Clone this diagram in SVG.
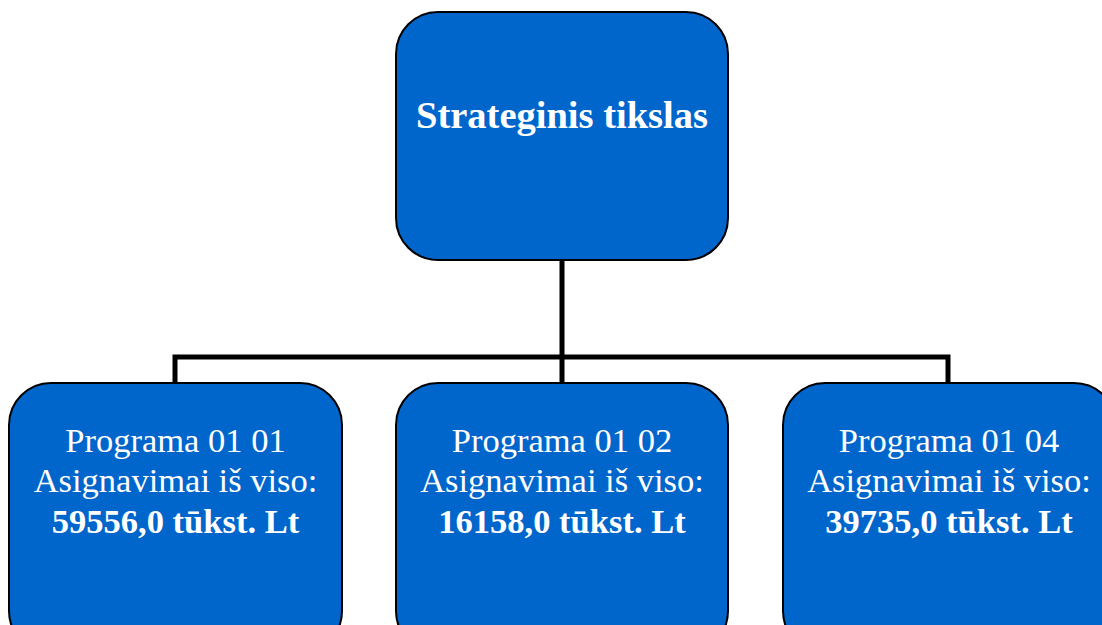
<svg xmlns="http://www.w3.org/2000/svg" width="1102" height="625" viewBox="0 0 1102 625">
<style>
.box{fill:#0066CC;stroke:#000;stroke-width:2}
.t{font-family:"Liberation Serif","Times New Roman",serif;fill:#fff;text-anchor:middle}
.r{font-size:34.5px}
.b{font-size:34.5px;font-weight:bold}
.h{font-size:38.5px;font-weight:bold}
.c{fill:none;stroke:#000;stroke-width:5}
</style>
<rect width="1102" height="625" fill="#fff"/>
<g id="connectors">
<path class="c" d="M562 260V357M175 383V357H948V383M562 357V383"/>
</g>
<g id="top">
<rect class="box" x="396" y="12" width="332" height="248" rx="42"/>
<text class="t h" x="562" y="128">Strateginis tikslas</text>
</g>
<g id="p0101">
<rect class="box" x="9" y="383" width="333" height="270" rx="42"/>
<text class="t r" x="175.5" y="452">Programa 01 01</text>
<text class="t r" x="175.5" y="492">Asignavimai iš viso:</text>
<text class="t b" x="175.5" y="533">59556,0 tūkst. Lt</text>
</g>
<g id="p0102">
<rect class="box" x="396" y="383" width="332" height="270" rx="42"/>
<text class="t r" x="562" y="452">Programa 01 02</text>
<text class="t r" x="562" y="492">Asignavimai iš viso:</text>
<text class="t b" x="562" y="533">16158,0 tūkst. Lt</text>
</g>
<g id="p0104">
<rect class="box" x="783" y="383" width="333" height="270" rx="42"/>
<text class="t r" x="949" y="452">Programa 01 04</text>
<text class="t r" x="949" y="492">Asignavimai iš viso:</text>
<text class="t b" x="949" y="533">39735,0 tūkst. Lt</text>
</g>
</svg>
